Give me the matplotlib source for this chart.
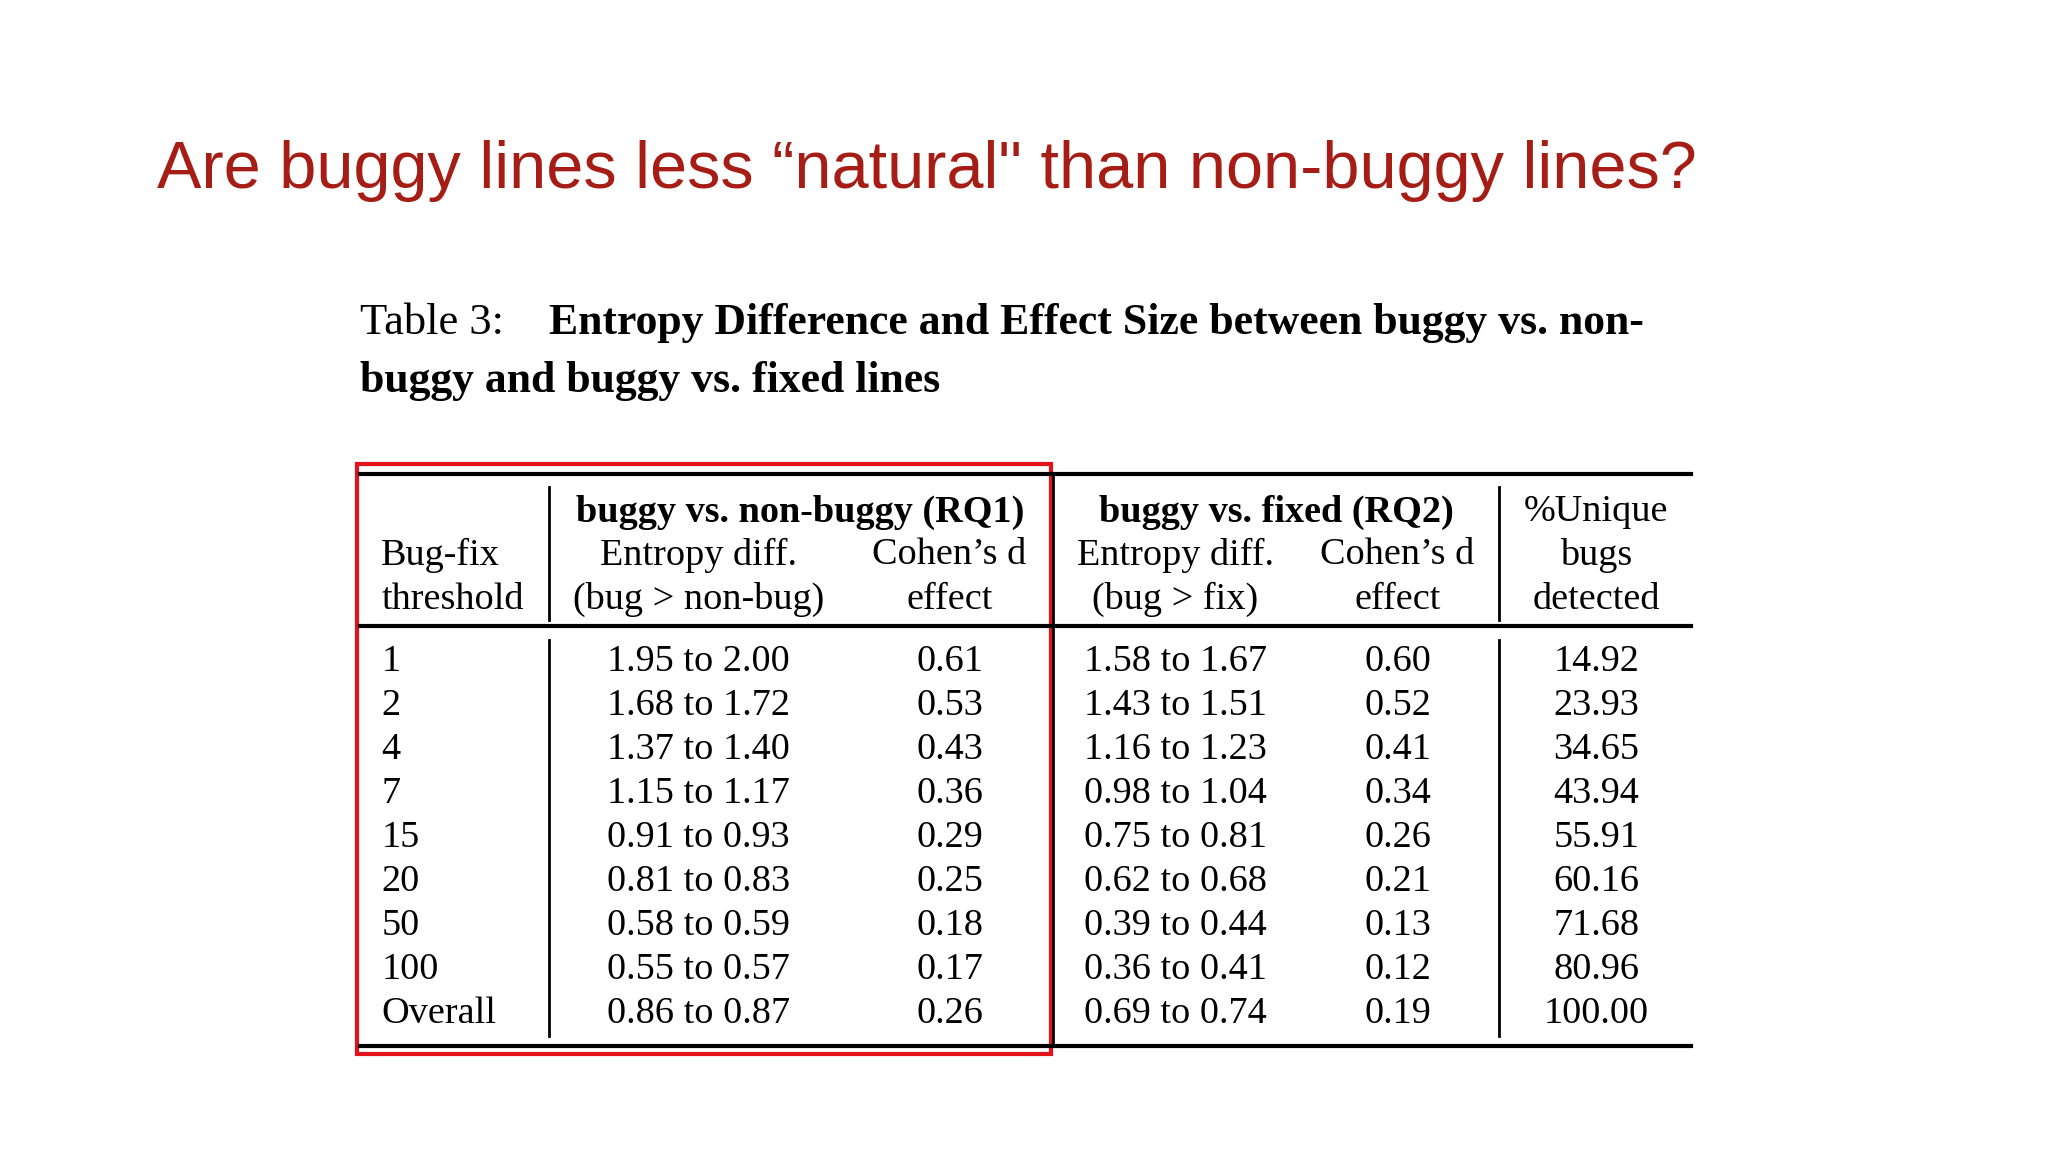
import matplotlib.pyplot as plt
from matplotlib.patches import Rectangle

# table content
thresholds = ["1", "2", "4", "7", "15", "20", "50", "100", "Overall"]
rq1_entropy = ["1.95 to 2.00", "1.68 to 1.72", "1.37 to 1.40", "1.15 to 1.17", "0.91 to 0.93",
               "0.81 to 0.83", "0.58 to 0.59", "0.55 to 0.57", "0.86 to 0.87"]
rq1_cohen = ["0.61", "0.53", "0.43", "0.36", "0.29", "0.25", "0.18", "0.17", "0.26"]
rq2_entropy = ["1.58 to 1.67", "1.43 to 1.51", "1.16 to 1.23", "0.98 to 1.04", "0.75 to 0.81",
               "0.62 to 0.68", "0.39 to 0.44", "0.36 to 0.41", "0.69 to 0.74"]
rq2_cohen = ["0.60", "0.52", "0.41", "0.34", "0.26", "0.21", "0.13", "0.12", "0.19"]
unique_bugs = ["14.92", "23.93", "34.65", "43.94", "55.91", "60.16", "71.68", "80.96", "100.00"]

W, H = 1568, 882
fig = plt.figure(figsize=(20.48, 11.52), dpi=100)
ax = fig.add_axes([0, 0, 1, 1])
ax.set_xlim(0, W)
ax.set_ylim(H, 0)
ax.axis('off')

serif = 'Liberation Serif'
fs = 27.5

ax.text(120, 131, "Are buggy lines less \u201cnatural\" than non-buggy lines?", fontsize=48,
        family='Liberation Sans', color='#A51D15', va='center')

ax.text(276, 247, "Table 3:", fontsize=32, family=serif, va='center')
ax.text(420, 247, "Entropy Difference and Effect Size between buggy vs. non-", fontsize=31.5,
        family=serif, weight='bold', va='center')
ax.text(276, 292, "buggy and buggy vs. fixed lines", fontsize=31.5, family=serif,
        weight='bold', va='center')

# rules
ax.plot([276, 1295], [363, 363], color='black', lw=3)
ax.plot([276, 1295], [479, 479], color='black', lw=3)
ax.plot([276, 1295], [801, 801], color='black', lw=3)
for x in [420, 1148]:
    ax.plot([x, x], [373, 475], color='black', lw=2)
    ax.plot([x, x], [490, 793], color='black', lw=2)
ax.plot([806, 806], [363, 801], color='black', lw=2)

ax.add_patch(Rectangle((273, 355), 532, 452, fill=False, edgecolor='#E3121B', lw=3))

# header
ax.text(613, 392, "buggy vs. non-buggy (RQ1)", fontsize=fs, family=serif, weight='bold',
        ha='center', va='center')
ax.text(977, 392, "buggy vs. fixed (RQ2)", fontsize=fs, family=serif, weight='bold',
        ha='center', va='center')
ax.text(292, 425, "Bug-fix", fontsize=fs, family=serif, va='center')
ax.text(292, 459, "threshold", fontsize=fs, family=serif, va='center')
for cx, l1, l2 in [(535, "Entropy diff.", "(bug > non-bug)"), (727, "Cohen\u2019s d", "effect"),
                   (900, "Entropy diff.", "(bug > fix)"), (1070, "Cohen\u2019s d", "effect")]:
    ax.text(cx, 425, l1, fontsize=fs, family=serif, ha='center', va='center')
    ax.text(cx, 459, l2, fontsize=fs, family=serif, ha='center', va='center')
ax.text(1222, 392, "%Unique", fontsize=fs, family=serif, ha='center', va='center')
ax.text(1222, 425, "bugs", fontsize=fs, family=serif, ha='center', va='center')
ax.text(1222, 459, "detected", fontsize=fs, family=serif, ha='center', va='center')

# body
for i, th in enumerate(thresholds):
    y = 507 + i * 33.6
    ax.text(292, y, th, fontsize=fs, family=serif, va='center')
    for cx, col in [(535, rq1_entropy), (727, rq1_cohen), (900, rq2_entropy),
                    (1070, rq2_cohen), (1222, unique_bugs)]:
        ax.text(cx, y, col[i], fontsize=fs, family=serif, ha='center', va='center')

fig.savefig('out.png', dpi=100, facecolor='white')
